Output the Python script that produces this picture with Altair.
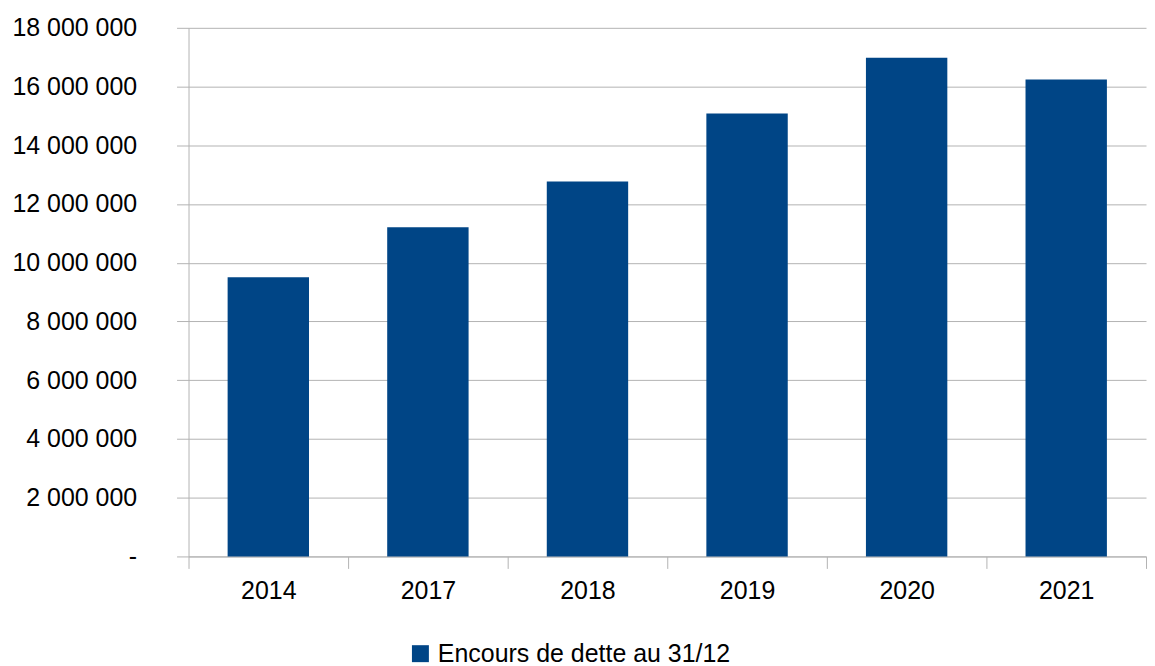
import altair as alt
import pandas as pd

years = ["2014", "2017", "2018", "2019", "2020", "2021"]
values = [9510000, 11210000, 12770000, 15080000, 16980000, 16240000]
series = ["Encours de dette au 31/12"] * len(years)
y_ticks = [0, 2000000, 4000000, 6000000, 8000000, 10000000, 12000000, 14000000, 16000000, 18000000]

df = pd.DataFrame({"annee": years, "valeur": values, "serie": series})

FONT = "Liberation Sans"
GRID = "#b3b3b3"

chart = alt.Chart(df).mark_bar(width=alt.RelativeBandSize(0.51)).encode(
    x=alt.X(
        "annee:N",
        sort=years,
        title=None,
        scale=alt.Scale(paddingInner=0, paddingOuter=0),
        axis=alt.Axis(
            labelAngle=0,
            labelFont=FONT,
            labelFontSize=25,
            labelColor="#000000",
            labelPadding=10,
            tickBand="extent",
            tickSize=12,
            tickColor=GRID,
            domainColor=GRID,
            grid=False,
        ),
    ),
    y=alt.Y(
        "valeur:Q",
        title=None,
        scale=alt.Scale(domain=[0, 18000000], nice=False),
        axis=alt.Axis(
            values=y_ticks,
            labelExpr="datum.value == 0 ? '-' : replace(format(datum.value, ',d'), regexp(',', 'g'), ' ')",
            labelFont=FONT,
            labelFontSize=25,
            labelColor="#000000",
            labelPadding=40,
            tickSize=12,
            tickColor=GRID,
            domainColor=GRID,
            gridColor=GRID,
        ),
    ),
    color=alt.Color(
        "serie:N",
        title=None,
        scale=alt.Scale(range=["#004586"]),
        legend=alt.Legend(
            orient="none",
            legendX=220,
            legendY=615,
            symbolType="square",
            symbolSize=289,
            symbolStrokeWidth=0,
            labelOffset=5,
            labelFont=FONT,
            labelFontSize=25,
            labelColor="#000000",
            labelLimit=500,
        ),
    ),
).properties(
    width=960,
    height=530,
    padding={"left": 3, "top": 7, "right": 0, "bottom": 0},
).configure_view(stroke=None)

chart.save("out.html", embed_options={"renderer": "svg", "actions": False})
